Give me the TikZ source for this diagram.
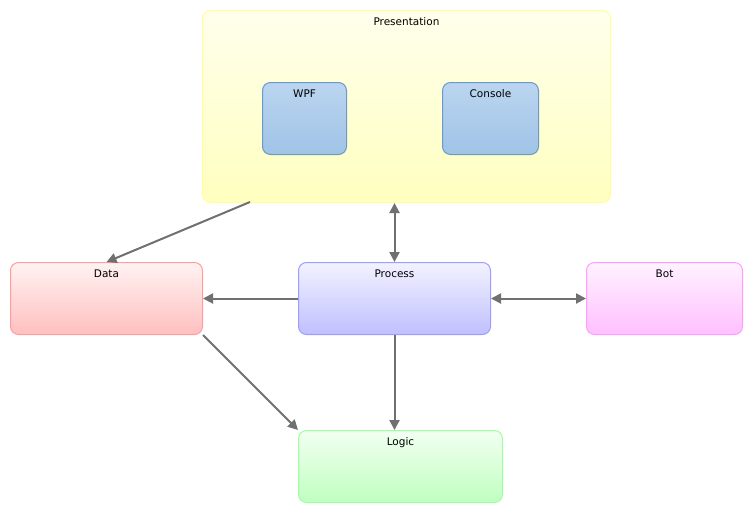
\documentclass[tikz,border=0pt]{standalone}
\usepackage{fontspec}
\setmainfont{DejaVu Sans}
\usetikzlibrary{arrows.meta}
\definecolor{linkgray}{HTML}{707070}
\definecolor{presline}{HTML}{FFFF99}
\definecolor{wpfline}{HTML}{6A9AC8}
\definecolor{wpftop}{HTML}{BAD5EF}
\definecolor{wpfbottom}{HTML}{A0C3E7}
\definecolor{dataline}{HTML}{FF9D9D}
\definecolor{procline}{HTML}{9D9DFF}
\definecolor{botline}{HTML}{FF9DFF}
\definecolor{logicline}{HTML}{9DFF9D}
\tikzset{
  x=1pt, y=-1pt,
  layer/.style={draw, rounded corners=8pt, line width=1pt, anchor=north west, inner sep=0pt},
  title/.style={label={[anchor=north, inner sep=0pt, yshift=-7.5pt, font=\fontsize{10.5}{12}\selectfont]north:#1}},
  link/.style={-{Triangle[length=10pt, width=10pt]}, line width=2pt, draw=linkgray},
  twoway/.style={{Triangle[length=10pt, width=10pt]}-{Triangle[length=10pt, width=10pt]}, line width=2pt, draw=linkgray},
}

\begin{document}
\begin{tikzpicture}
		\useasboundingbox (0,0) rectangle (751,511);

		% layers
		\node[layer, draw=presline, top color=white!40!yellow!12, bottom color=yellow!25,
			minimum width=408pt, minimum height=192pt, title=Presentation] (pres) at (202,10) {};
		\node[layer, draw=wpfline, top color=wpftop, bottom color=wpfbottom,
			minimum width=84pt, minimum height=72pt, title=WPF] (wpf) at (262,82) {};
		\node[layer, draw=wpfline, top color=wpftop, bottom color=wpfbottom,
			minimum width=96pt, minimum height=72pt, title=Console] (console) at (442,82) {};
		\node[layer, draw=dataline, top color=red!5, bottom color=red!25,
			minimum width=192pt, minimum height=72pt, title=Data] (data) at (10,262) {};
		\node[layer, draw=procline, top color=blue!5, bottom color=blue!25,
			minimum width=192pt, minimum height=72pt, title=Process] (proc) at (298,262) {};
		\node[layer, draw=botline, top color=magenta!5, bottom color=magenta!25,
			minimum width=156pt, minimum height=72pt, title=Bot] (bot) at (586,262) {};
		\node[layer, draw=logicline, top color=green!5, bottom color=green!25,
			minimum width=204pt, minimum height=72pt, title=Logic] (logic) at (298,430) {};

		% links
		\coordinate (presout) at (250,202);
		\draw[link] (presout) -- (data.north);
		\draw[twoway] (proc.north) -- (proc.north |- pres.south);
		\draw[link] (proc.west) -- (data.east);
		\draw[twoway] (proc.east) -- (bot.west);
		\draw[link] (proc.south) -- (logic.north -| proc.south);
		\draw[link] (data.south east) -- (logic.north west);

	\end{tikzpicture}
\end{document}
